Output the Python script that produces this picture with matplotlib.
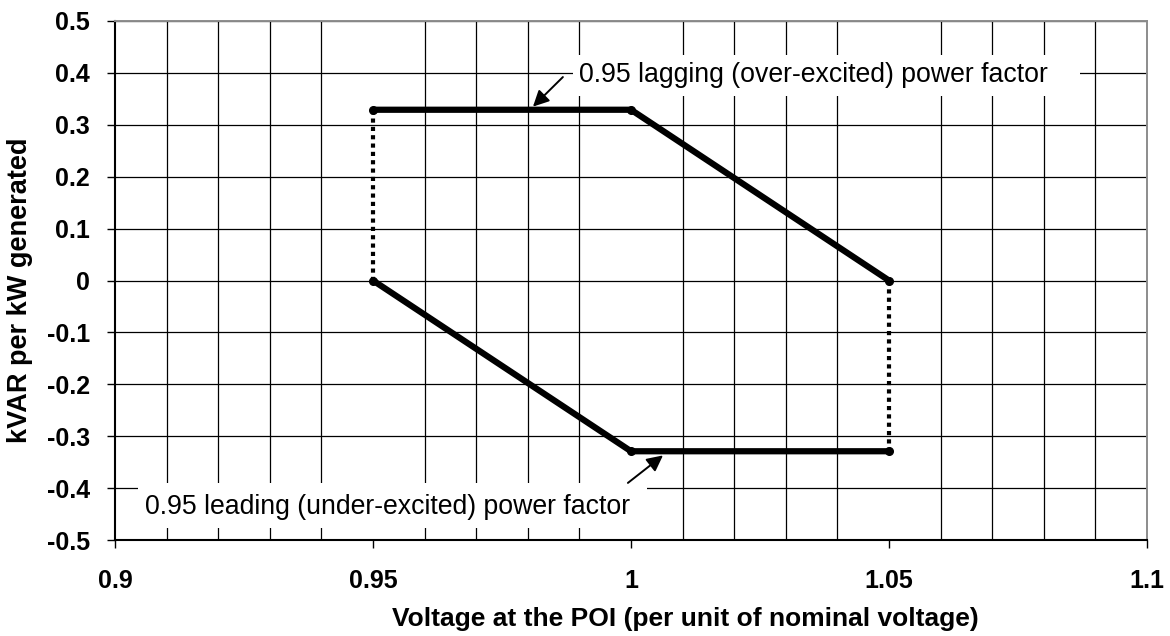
import numpy as np
import matplotlib
matplotlib.use("Agg")
import matplotlib.pyplot as plt
from matplotlib.patches import Rectangle

# data
upper_v = [0.95, 1.00, 1.05]
upper_q = [0.329, 0.329, 0.0]
lower_v = [0.95, 1.00, 1.05]
lower_q = [0.0, -0.329, -0.329]
left_edge_v = [0.95, 0.95]
left_edge_q = [0.0, 0.329]
right_edge_v = [1.05, 1.05]
right_edge_q = [0.0, -0.329]

x_ticks = [0.9, 0.95, 1.0, 1.05, 1.1]
x_labels = ["0.9", "0.95", "1", "1.05", "1.1"]
y_ticks = [0.5, 0.4, 0.3, 0.2, 0.1, 0.0, -0.1, -0.2, -0.3, -0.4, -0.5]
y_labels = ["0.5", "0.4", "0.3", "0.2", "0.1", "0", "-0.1", "-0.2", "-0.3", "-0.4", "-0.5"]

lag_text = "0.95 lagging (over-excited) power factor"
lead_text = "0.95 leading (under-excited) power factor"

plt.rcParams['font.family'] = ['Liberation Sans', 'DejaVu Sans']

fig, ax = plt.subplots(figsize=(11.7, 6.36), dpi=100)
fig.subplots_adjust(left=115/1170, right=1147/1170, bottom=1-540/636, top=1-21/636)

ax.set_xlim(0.9, 1.1)
ax.set_ylim(-0.5, 0.5)
ax.set_xticks(x_ticks)
ax.set_xticklabels(x_labels, fontsize=18, fontweight='bold')
ax.set_xticks(np.arange(0.9, 1.1001, 0.01), minor=True)
ax.set_yticks(y_ticks)
ax.set_yticklabels(y_labels, fontsize=18, fontweight='bold')
ax.tick_params(axis='x', which='major', direction='out', length=6, width=1, pad=15)
ax.tick_params(axis='x', which='minor', length=0)
ax.tick_params(axis='y', which='major', direction='out', length=6, width=1, pad=12)

ax.set_axisbelow(True)
ax.grid(True, which='minor', axis='x', color='black', lw=0.9)
ax.grid(True, which='major', axis='y', color='black', lw=0.9)

for s in ['top', 'right']:
    ax.spines[s].set_color('#8c8c8c')
    ax.spines[s].set_linewidth(1.4)
for s in ['left', 'bottom']:
    ax.spines[s].set_color('black')
    ax.spines[s].set_linewidth(1.5)

# white boxes behind the annotation texts
ax.add_patch(Rectangle((0.4438, 0.8555), 0.4913, 0.079, transform=ax.transAxes,
                       facecolor='white', edgecolor='none', zorder=1))
ax.add_patch(Rectangle((0.0223, 0.0231), 0.4932, 0.0867, transform=ax.transAxes,
                       facecolor='white', edgecolor='none', zorder=1))

ax.plot(upper_v, upper_q, color='black', lw=4.5, marker='o', ms=5.5, zorder=3,
        solid_capstyle='butt')
ax.plot(lower_v, lower_q, color='black', lw=4.5, marker='o', ms=5.5, zorder=3,
        solid_capstyle='butt')
ax.plot(left_edge_v, left_edge_q, color='black', lw=3, ls=(0, (1.0, 1.0)), zorder=2)
ax.plot(right_edge_v, right_edge_q, color='black', lw=3, ls=(0, (1.0, 1.0)), zorder=2)

ax.text(0.4496, 0.8955, lag_text, transform=ax.transAxes, fontsize=19.2,
        ha='left', va='center', zorder=4)
ax.text(0.0291, 0.0636, lead_text, transform=ax.transAxes, fontsize=19.2,
        ha='left', va='center', zorder=4)

ax.annotate("", xy=(0.9810, 0.335), xytext=(0.9868, 0.392),
            arrowprops=dict(arrowstyle='-|>', color='black', lw=1.4,
                            mutation_scale=24, shrinkA=0, shrinkB=0), zorder=4)
ax.annotate("", xy=(1.0062, -0.337), xytext=(0.9994, -0.390),
            arrowprops=dict(arrowstyle='-|>', color='black', lw=1.4,
                            mutation_scale=24, shrinkA=0, shrinkB=0), zorder=4)

ax.set_xlabel("Voltage at the POI (per unit of nominal voltage)", fontsize=19,
              fontweight='bold', va='center')
ax.xaxis.set_label_coords(0.553, -0.152)
ax.set_ylabel("kVAR per kW generated", fontsize=19.5, fontweight='bold')
ax.yaxis.set_label_coords(-0.0795, 0.482)

fig.savefig("out.png", dpi=100)
